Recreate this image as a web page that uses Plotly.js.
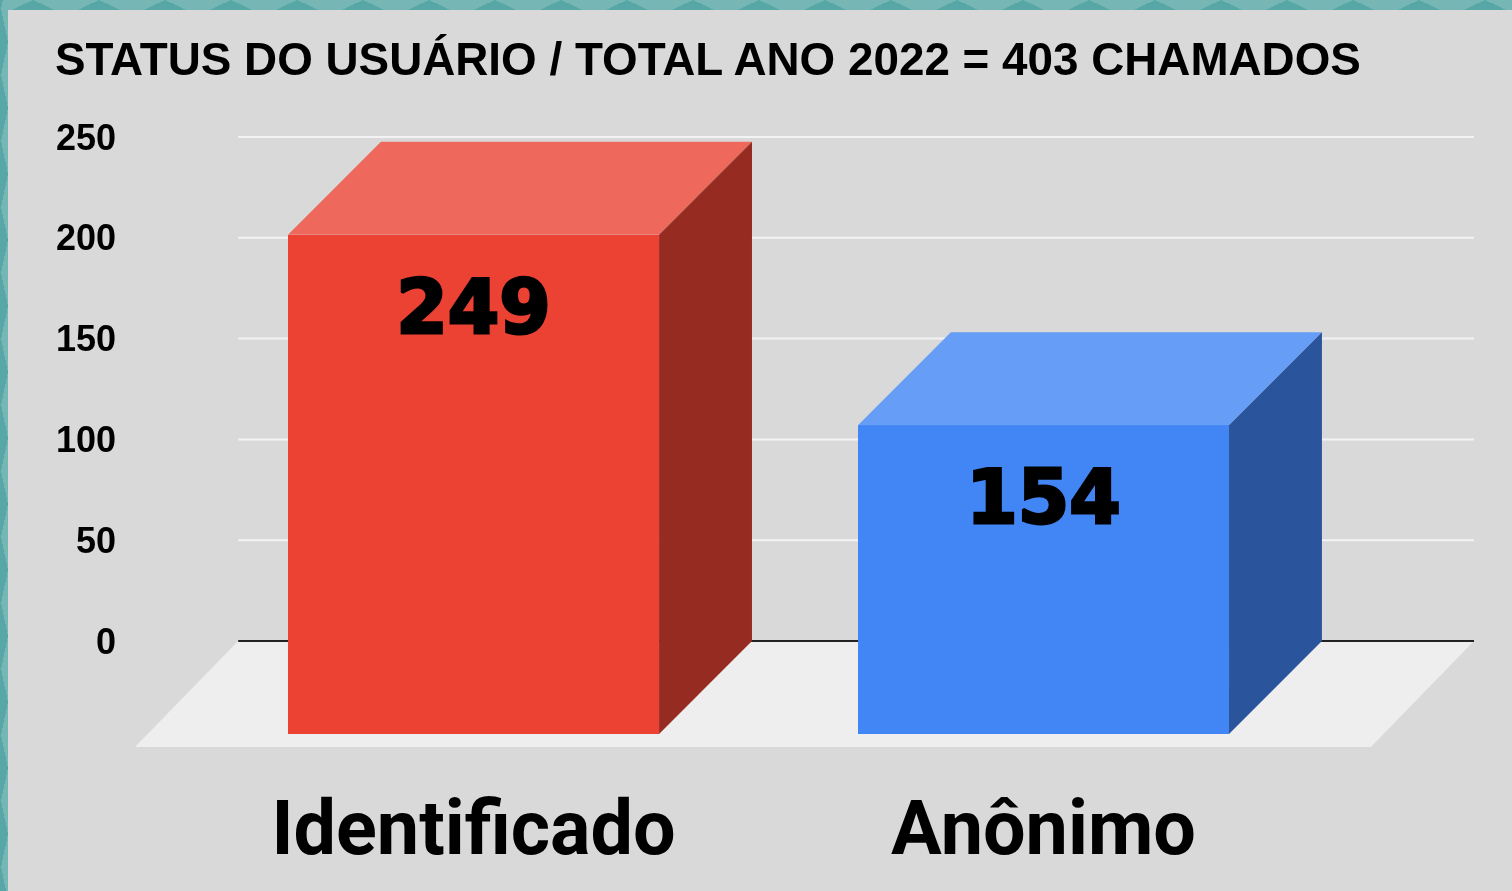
<!DOCTYPE html>
<html lang="pt">
<head>
<meta charset="utf-8">
<title>Status do usuário</title>
<script src="https://cdn.plot.ly/plotly-3.0.1.min.js"></script>
<style>
html,body{margin:0;padding:0;width:1512px;height:891px;overflow:hidden}
body{background-color:#76b7b6}
body::before{content:"";position:absolute;left:0;top:0;width:1512px;height:10px;
background-image:conic-gradient(from 115deg at 50% 0,#57a7a6 130deg,transparent 0);background-size:66px 10px;filter:blur(0.7px)}
body::after{content:"";position:absolute;left:0;top:0;width:8px;height:891px;
background-image:conic-gradient(from 192deg at 100% 50%,#57a7a6 156deg,transparent 0);background-size:8px 66px;background-position:0 9px;filter:blur(0.7px)}
#chart{position:absolute;left:8px;top:10px;width:1504px;height:881px;z-index:1;filter:blur(0.7px)}
#chart .textpoint text{stroke:#000;stroke-width:3px}
</style>
</head>
<body>
<div id="chart"></div>
<script>
const categories = ['Identificado', 'Anônimo'];
const values = [249, 154];
const frontColors = ['#ec4234', '#4285f4'];
const topColors = ['#ee695c', '#669df6'];
const sideColors = ['#962b22', '#2a549c'];
const yTicks = [0, 50, 100, 150, 200, 250];
const titleText = 'STATUS DO USUÁRIO / TOTAL ANO 2022 = 403 CHAMADOS';

const positions = categories.map((_, i) => i);
const barWidth = 0.651;
const depthX = 0.163;
const depthY = 46.4;
const labelDrop = 39.7;
const xRange = [-0.594, 1.7553];
const backLeft = -0.413;
const floorDepthX = 0.181;
const yRange = [-52.6, 252];
const barRange = [-52.87, 253.37];

const traces = [];
// gridlines, floor and baseline on the main axis, behind the bars
traces.push({type:'scatter', mode:'lines', xaxis:'x', yaxis:'y', hoverinfo:'skip', showlegend:false,
  x:yTicks.flatMap(() => [backLeft, xRange[1], null]),
  y:yTicks.flatMap(t => [t, t, null]),
  line:{color:'#f3f3f3', width:2}});
traces.push({type:'scatter', mode:'lines', xaxis:'x', yaxis:'y', hoverinfo:'skip', showlegend:false,
  x:[backLeft, xRange[1], xRange[1]-floorDepthX, xRange[0], backLeft],
  y:[0, 0, yRange[0], yRange[0], 0],
  fill:'toself', fillcolor:'#eeeeee', line:{width:0}});
traces.push({type:'scatter', mode:'lines', xaxis:'x', yaxis:'y', hoverinfo:'skip', showlegend:false,
  x:[backLeft, xRange[1]], y:[0, 0], line:{color:'#222222', width:2}});
// bars on an overlaying axis, so they stack above the floor
const hw = barWidth / 2;
traces.push({type:'bar', xaxis:'x', yaxis:'y2', showlegend:false,
  x:positions, y:values, base:values.map(() => -depthY), width:barWidth,
  marker:{color:frontColors, line:{width:0}}, customdata:values, hovertemplate:'%{customdata}<extra></extra>'});
values.forEach((v, i) => {
  const p = positions[i];
  traces.push({type:'scatter', mode:'lines', xaxis:'x', yaxis:'y2', hoverinfo:'skip', showlegend:false,
    x:[p-hw, p+hw, p+hw+depthX, p-hw+depthX, p-hw], y:[v-depthY, v-depthY, v, v, v-depthY],
    fill:'toself', fillcolor:topColors[i], line:{width:0}});
  traces.push({type:'scatter', mode:'lines', xaxis:'x', yaxis:'y2', hoverinfo:'skip', showlegend:false,
    x:[p+hw, p+hw+depthX, p+hw+depthX, p+hw, p+hw], y:[-depthY, 0, v, v-depthY, -depthY],
    fill:'toself', fillcolor:sideColors[i], line:{width:0}});
});
traces.push({type:'scatter', mode:'text', xaxis:'x', yaxis:'y2', hoverinfo:'skip', showlegend:false,
  x:positions, y:values.map(v => v - depthY - labelDrop), text:values.map(String), textposition:'middle center',
  textfont:{family:'"DejaVu Sans", sans-serif', size:74, color:'#000000', weight:'bold'}});

const layout = {
  width:1504, height:881,
  paper_bgcolor:'#d9d9d9', plot_bgcolor:'#d9d9d9',
  margin:{l:127, r:38, t:123, b:144, pad:0},
  showlegend:false, bargap:0,
  title:{text:titleText, xref:'container', yref:'container', x:47/1504, xanchor:'left', y:1-49/881, yanchor:'middle',
    font:{family:'"Liberation Sans", Arial, sans-serif', size:45.8, color:'#000000', weight:'bold'}},
  xaxis:{range:xRange, tickmode:'array', tickvals:positions, ticktext:categories, showgrid:false, zeroline:false, showline:false, ticks:'',
    ticklabelstandoff:30, tickfont:{family:'Roboto, sans-serif', size:75.5, color:'#000000', weight:'bold'}},
  yaxis:{range:yRange, tickmode:'array', tickvals:yTicks, showgrid:false, zeroline:false, showline:false, ticks:'',
    ticklabelstandoff:18, tickfont:{family:'"Liberation Sans", Arial, sans-serif', size:36, color:'#000000', weight:'bold'}},
  yaxis2:{overlaying:'y', range:barRange, autorange:false, visible:false}
};
Plotly.newPlot('chart', traces, layout, {displayModeBar:false, staticPlot:true});
</script>
</body>
</html>
